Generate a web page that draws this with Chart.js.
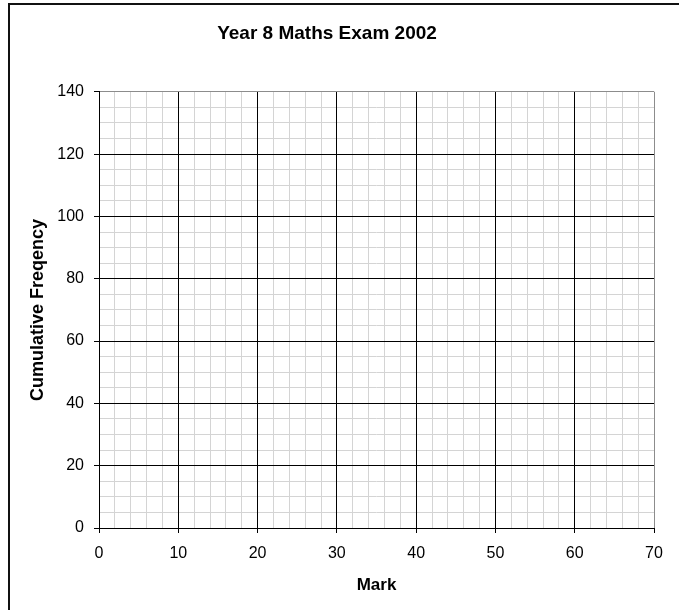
<!DOCTYPE html>
<html>
<head>
<meta charset="utf-8">
<title>Year 8 Maths Exam 2002</title>
<script src="https://cdn.jsdelivr.net/npm/chart.js@4/dist/chart.umd.min.js"></script>
<style>
    html, body { margin: 0; padding: 0; background: #fff; }
    #wrap { width: 679px; height: 610px; }
</style>
</head>
<body>
<div id="wrap"><canvas id="cfChart" width="679" height="610"></canvas></div>
<script>
// Dados do gráfico (papel quadriculado vazio para a curva de frequência acumulada)
const marks = [];               // eixo X: nota
const cumulativeFreq = [];      // eixo Y: frequência acumulada
const xTickValues = [0, 10, 20, 30, 40, 50, 60, 70];
const yTickValues = [0, 20, 40, 60, 80, 100, 120, 140];
const xMinorStep = 2;
const yMinorStep = 5;

const COR_MAIOR = '#000000';
const COR_MENOR = '#d4d4d4';
const COR_BORDA = '#8c8c8c';
const FONTE = "'Liberation Sans', Arial, sans-serif";

Chart.defaults.color = '#000';
Chart.defaults.font.family = FONTE;

// Moldura exterior (só a esquerda e o topo são visíveis)
const molduraPlugin = {
    id: 'moldura',
    beforeDraw(chart) {
        const c = chart.ctx;
        c.save();
        c.fillStyle = '#fff';
        c.fillRect(0, 0, chart.width, chart.height);
        c.fillStyle = '#111';
        c.fillRect(8, 3, 2, chart.height);
        c.fillRect(8, 3, chart.width, 2);
        c.restore();
    }
};

const pontos = marks.map((m, i) => ({ x: m, y: cumulativeFreq[i] }));
const xMax = xTickValues[xTickValues.length - 1];
const yMax = yTickValues[yTickValues.length - 1];

new Chart(document.getElementById('cfChart'), {
    type: 'scatter',
    data: {
        datasets: [{
            label: 'Cumulative Freqency',
            data: pontos,
            borderColor: '#000',
            backgroundColor: '#000',
            showLine: true,
            pointRadius: 3
        }]
    },
    options: {
        responsive: false,
        animation: false,
        layout: { padding: { left: 0, right: 25, top: 0, bottom: 0 } },
        plugins: {
            legend: { display: false },
            tooltip: { enabled: false },
            title: {
                display: true,
                text: 'Year 8 Maths Exam 2002',
                color: '#000',
                font: { size: 19, weight: 'bold', family: FONTE },
                padding: { top: 22, bottom: 47 }
            }
        },
        scales: {
            xMinor: {
                axis: 'x', type: 'linear', position: 'bottom',
                min: 0, max: xMax,
                ticks: { display: false, stepSize: xMinorStep },
                grid: { color: COR_MENOR, drawTicks: false, z: -2 },
                border: { display: false },
                afterFit: s => { s.height = 0; }
            },
            yMinor: {
                axis: 'y', type: 'linear', position: 'left',
                min: 0, max: yMax,
                ticks: { display: false, stepSize: yMinorStep },
                grid: { color: COR_MENOR, drawTicks: false, z: -2 },
                border: { display: false },
                afterFit: s => { s.width = 0; }
            },
            x: {
                type: 'linear', position: 'bottom',
                min: 0, max: xMax,
                afterBuildTicks: s => { s.ticks = xTickValues.map(v => ({ value: v })); },
                ticks: { autoSkip: false, maxRotation: 0, padding: 11, font: { size: 16 } },
                grid: {
                    color: ctx => (ctx.tick && ctx.tick.value === xMax) ? COR_BORDA : COR_MAIOR,
                    tickColor: COR_MAIOR,
                    tickLength: 5
                },
                border: { display: true, color: COR_MAIOR },
                title: {
                    display: true, text: 'Mark', color: '#000',
                    font: { size: 17, weight: 'bold' },
                    padding: { top: 0, bottom: 14 }
                },
                afterFit: s => { s.height = 82; }
            },
            y: {
                type: 'linear', position: 'left',
                min: 0, max: yMax,
                afterBuildTicks: s => { s.ticks = yTickValues.map(v => ({ value: v })); },
                ticks: { autoSkip: false, padding: 10, font: { size: 16 } },
                grid: {
                    color: ctx => (ctx.tick && ctx.tick.value === yMax) ? COR_BORDA : COR_MAIOR,
                    tickColor: COR_MAIOR,
                    tickLength: 5
                },
                border: { display: true, color: COR_MAIOR },
                title: {
                    display: true, text: 'Cumulative Freqency', color: '#000',
                    font: { size: 18, weight: 'bold' },
                    padding: { top: 27, bottom: 0 }
                },
                afterFit: s => { s.width = 99; }
            }
        }
    },
    plugins: [molduraPlugin]
});
</script>
</body>
</html>
